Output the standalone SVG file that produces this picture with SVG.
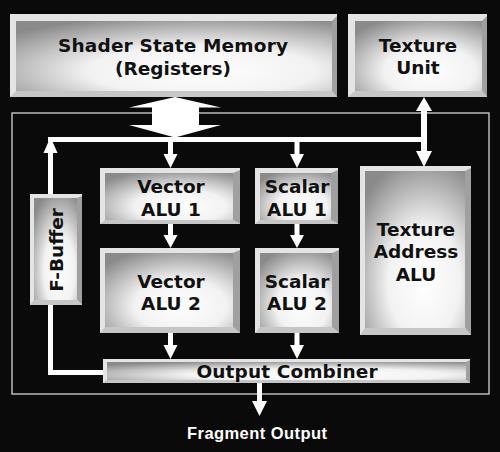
<svg xmlns="http://www.w3.org/2000/svg" width="500" height="452" viewBox="0 0 500 452">
<defs>
<radialGradient id="face" cx="0.6" cy="0.7" r="0.8" fx="0.58" fy="0.72">
<stop offset="0" stop-color="#ffffff"/>
<stop offset="0.45" stop-color="#f2f2f2"/>
<stop offset="1" stop-color="#8a8a8a"/>
</radialGradient>
<style>
.lt{fill:#e4e4e4}
.rb{fill:#a0a0a0}
.bb{fill:#c6c6c6}
.fc{fill:url(#face)}
.t{font-family:"DejaVu Sans","Verdana",sans-serif;font-weight:bold;font-size:18.5px;fill:#111;text-anchor:middle}
.w{stroke:#fff;stroke-width:5;fill:none}
.h{fill:#fff}
</style>
</defs>
<rect width="500" height="452" fill="#0a0a0a"/>
<rect x="12" y="113" width="477" height="281" fill="none" stroke="#d4d4d4" stroke-width="1.3"/>

<g id="connectors">
<polygon class="h" points="175,97 221,107.5 199,107.5 199,125 221,125 175,137.5 129,125 152,125 152,107.5 129,107.5"/>
<line class="w" x1="48" y1="139.5" x2="423" y2="139.5"/>
<line class="w" x1="50.5" y1="194" x2="50.5" y2="150"/>
<polygon class="h" points="50.5,137 57.5,153 43.5,153"/>
<polyline class="w" points="105,372.5 50.5,372.5 50.5,305"/>
<line class="w" x1="170.5" y1="140" x2="170.5" y2="156"/>
<polygon class="h" points="170.5,168 163.5,154 177.5,154"/>
<line class="w" x1="170.5" y1="224" x2="170.5" y2="238"/>
<polygon class="h" points="170.5,248 163.5,235 177.5,235"/>
<line class="w" x1="170.5" y1="333" x2="170.5" y2="348"/>
<polygon class="h" points="170.5,359 163.5,345 177.5,345"/>
<line class="w" x1="297" y1="140" x2="297" y2="156"/>
<polygon class="h" points="297,168 290,154 304,154"/>
<line class="w" x1="297" y1="224" x2="297" y2="238"/>
<polygon class="h" points="297,248 290,235 304,235"/>
<line class="w" x1="297" y1="333" x2="297" y2="348"/>
<polygon class="h" points="297,359 290,345 304,345"/>
<line x1="424" y1="108" x2="424" y2="154" stroke="#fff" stroke-width="6"/>
<polygon class="h" points="424,97 432,111 416,111"/>
<polygon class="h" points="424,167 432,151 416,151"/>
<line class="w" x1="259.5" y1="383" x2="259.5" y2="404"/>
<polygon class="h" points="259.5,416 252,401 267,401"/>
</g>

<g id="shader-state-memory">
<rect class="lt" x="10" y="14" width="327" height="83"/>
<polygon class="rb" points="337,16 337,97 332,91 332,21"/>
<polygon class="bb" points="10,97 337,97 332,91 16,91"/>
<rect class="fc" x="16" y="21" width="316" height="70"/>
<text class="t" x="173" y="52" font-size="19.5" textLength="230">Shader State Memory</text>
<text class="t" x="173" y="75" font-size="19.5">(Registers)</text>
</g>

<g id="texture-unit">
<rect class="lt" x="348" y="14" width="139" height="83"/>
<polygon class="rb" points="487,16 487,97 482,91 482,21"/>
<polygon class="bb" points="348,97 487,97 482,91 355,91"/>
<rect class="fc" x="355" y="21" width="127" height="70"/>
<text class="t" x="418" y="52" font-size="19.5">Texture</text>
<text class="t" x="418" y="74" font-size="19.5">Unit</text>
</g>

<g id="f-buffer">
<rect class="lt" x="30" y="194" width="52" height="111"/>
<polygon class="rb" points="82,196 82,305 77,300 77,198"/>
<polygon class="bb" points="30,305 82,305 77,300 34,300"/>
<rect class="fc" x="34" y="198" width="43" height="102"/>
<text class="t" transform="translate(63,250) rotate(-90)">F-Buffer</text>
</g>

<g id="vector-alu-1">
<rect class="lt" x="100" y="168" width="140" height="56"/>
<polygon class="rb" points="240,170 240,224 233,220 233,173"/>
<polygon class="bb" points="100,224 240,224 233,220 105,220"/>
<rect class="fc" x="105" y="173" width="128" height="47"/>
<text class="t" x="171" y="193">Vector</text>
<text class="t" x="171" y="216">ALU 1</text>
</g>

<g id="vector-alu-2">
<rect class="lt" x="100" y="248" width="140" height="85"/>
<polygon class="rb" points="240,250 240,333 233,327 233,253"/>
<polygon class="bb" points="100,333 240,333 233,327 105,327"/>
<rect class="fc" x="105" y="253" width="128" height="74"/>
<text class="t" x="171" y="288">Vector</text>
<text class="t" x="171" y="310">ALU 2</text>
</g>

<g id="scalar-alu-1">
<rect class="lt" x="255" y="168" width="83" height="56"/>
<polygon class="rb" points="338,170 338,224 331,220 331,173"/>
<polygon class="bb" points="255,224 338,224 331,220 260,220"/>
<rect class="fc" x="260" y="173" width="71" height="47"/>
<text class="t" x="297" y="193">Scalar</text>
<text class="t" x="297" y="216">ALU 1</text>
</g>

<g id="scalar-alu-2">
<rect class="lt" x="255" y="248" width="84" height="85"/>
<polygon class="rb" points="339,250 339,333 332,327 332,253"/>
<polygon class="bb" points="255,333 339,333 332,327 260,327"/>
<rect class="fc" x="260" y="253" width="72" height="74"/>
<text class="t" x="297" y="288">Scalar</text>
<text class="t" x="297" y="310">ALU 2</text>
</g>

<g id="texture-address-alu">
<rect class="lt" x="360" y="166" width="111" height="169"/>
<polygon class="rb" points="471,168 471,335 465,328 465,171"/>
<polygon class="bb" points="360,335 471,335 465,328 365,328"/>
<rect class="fc" x="365" y="171" width="100" height="157"/>
<text class="t" x="416" y="236">Texture</text>
<text class="t" x="416" y="258">Address</text>
<text class="t" x="416" y="281">ALU</text>
</g>

<g id="output-combiner">
<rect class="lt" x="103" y="359" width="367" height="24"/>
<polygon class="rb" points="470,360 470,383 466,380 466,362"/>
<polygon class="bb" points="103,383 470,383 466,380 107,380"/>
<rect class="fc" x="107" y="362" width="359" height="18"/>
<text class="t" x="287" y="378" textLength="181">Output Combiner</text>
</g>

<g id="fragment-output">
<text x="257" y="439" font-family="Liberation Sans, Arial, sans-serif" font-weight="bold" font-size="16.5" fill="#fff" text-anchor="middle" textLength="140">Fragment Output</text>
</g>
</svg>
